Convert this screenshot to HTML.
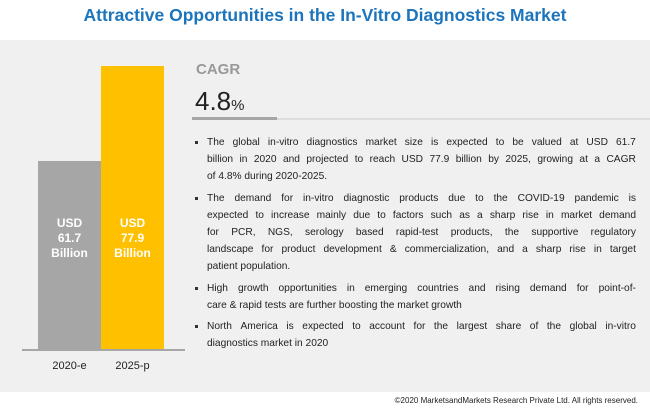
<!DOCTYPE html>
<html><head><style>
body{margin:0;width:650px;height:415px;background:#fff;font-family:"Liberation Sans",sans-serif;position:relative;overflow:hidden}
.a{position:absolute}
.t{left:0;width:650px;top:5px;text-align:center;color:#1c75bc;font-weight:bold;font-size:17.5px}
.panel{left:0;top:40px;width:650px;height:352px;background:#f0f0f0}
.bl{color:#fff;font-weight:bold;font-size:12px;text-align:center}
.b{position:absolute;left:194px;width:442px;padding-left:13px;box-sizing:border-box;font-size:10.2px;color:#222;line-height:17px}
.b div{text-align:justify;text-align-last:justify;white-space:nowrap;overflow:visible}
.b div.l{text-align-last:left}
.b:before{content:"";position:absolute;left:1px;top:7px;width:3px;height:3px;background:#333}
</style></head><body>
<div class="a t">Attractive Opportunities in the In-Vitro Diagnostics Market</div>
<div class="a panel"></div>
<div class="a" style="left:38px;top:161px;width:63px;height:189px;background:#a6a6a6"></div>
<div class="a" style="left:101px;top:66px;width:63px;height:284px;background:#ffc000"></div>
<div class="a" style="left:22px;top:349px;width:163px;height:2px;background:#a6a6a6"></div>
<div class="a bl" style="left:38px;top:216px;width:63px;line-height:15px">USD<br>61.7<br>Billion</div>
<div class="a bl" style="left:101px;top:216px;width:63px;line-height:15px">USD<br>77.9<br>Billion</div>
<div class="a" style="left:38px;top:360px;width:63px;text-align:center;font-size:11px;color:#222">2020-e</div>
<div class="a" style="left:101px;top:360px;width:63px;text-align:center;font-size:11px;color:#222">2025-p</div>
<div class="a" style="left:196px;top:61px;font-size:15px;color:#999;font-weight:bold">CAGR</div>
<div class="a" style="left:195px;top:86px;font-size:26px;color:#222">4.8<span style="font-size:15px">%</span></div>
<div class="a" style="left:192px;top:118px;width:458px;height:2px;background:#ddd"></div>
<div class="a" style="left:192px;top:117px;width:85px;height:3px;background:#a6a6a6"></div>
<div class="b" style="top:134px">
<div style="display:flex;justify-content:space-between"><span>The</span><span>global</span><span>in-vitro</span><span>diagnostics</span><span>market</span><span>size</span><span>is</span><span>expected</span><span>to</span><span>be</span><span>valued</span><span>at</span><span>USD</span><span>61.7</span></div>
<div style="display:flex;justify-content:space-between"><span>billion</span><span>in</span><span>2020</span><span>and</span><span>projected</span><span>to</span><span>reach</span><span>USD</span><span>77.9</span><span>billion</span><span>by</span><span>2025,</span><span>growing</span><span>at</span><span>a</span><span>CAGR</span></div>
<div class="l">of 4.8% during 2020-2025.</div>
</div>
<div class="b" style="top:190px">
<div style="display:flex;justify-content:space-between"><span>The</span><span>demand</span><span>for</span><span>in-vitro</span><span>diagnostic</span><span>products</span><span>due</span><span>to</span><span>the</span><span>COVID-19</span><span>pandemic</span><span>is</span></div>
<div style="display:flex;justify-content:space-between"><span>expected</span><span>to</span><span>increase</span><span>mainly</span><span>due</span><span>to</span><span>factors</span><span>such</span><span>as</span><span>a</span><span>sharp</span><span>rise</span><span>in</span><span>market</span><span>demand</span></div>
<div style="display:flex;justify-content:space-between"><span>for</span><span>PCR,</span><span>NGS,</span><span>serology</span><span>based</span><span>rapid-test</span><span>products,</span><span>the</span><span>supportive</span><span>regulatory</span></div>
<div style="display:flex;justify-content:space-between"><span>landscape</span><span>for</span><span>product</span><span>development</span><span>&amp;</span><span>commercialization,</span><span>and</span><span>a</span><span>sharp</span><span>rise</span><span>in</span><span>target</span></div>
<div class="l">patient population.</div>
</div>
<div class="b" style="top:280px">
<div style="display:flex;justify-content:space-between"><span>High</span><span>growth</span><span>opportunities</span><span>in</span><span>emerging</span><span>countries</span><span>and</span><span>rising</span><span>demand</span><span>for</span><span>point-of-</span></div>
<div class="l">care &amp; rapid tests are further boosting the market growth</div>
</div>
<div class="b" style="top:318px">
<div style="display:flex;justify-content:space-between"><span>North</span><span>America</span><span>is</span><span>expected</span><span>to</span><span>account</span><span>for</span><span>the</span><span>largest</span><span>share</span><span>of</span><span>the</span><span>global</span><span>in-vitro</span></div>
<div class="l">diagnostics market in 2020</div>
</div>
<div class="a" style="right:12px;top:396px;font-size:8px;color:#222">©2020 MarketsandMarkets Research Private Ltd. All rights reserved.</div>
</body></html>
